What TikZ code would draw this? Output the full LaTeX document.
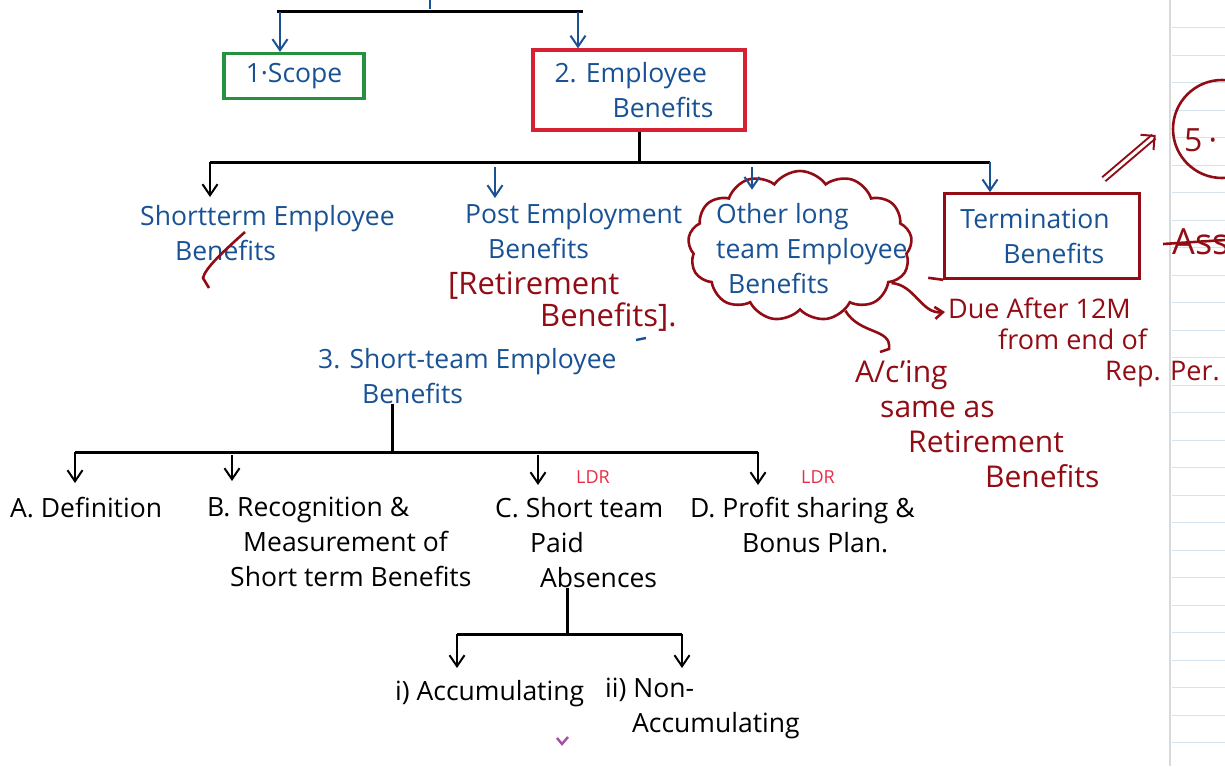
\documentclass[tikz,border=0pt]{standalone}
\usepackage{fontspec}
\setmainfont{Open Sans}
\usetikzlibrary{arrows.meta,shapes.symbols}
\definecolor{inkblue}{RGB}{24,82,148}
\definecolor{inkred}{RGB}{145,12,20}
\definecolor{boxred}{RGB}{214,32,52}
\definecolor{boxgreen}{RGB}{38,145,62}
\definecolor{ldrred}{RGB}{232,45,70}
\definecolor{paperline}{RGB}{212,227,238}
\tikzset{
  hand/.style={inner sep=0pt, align=left, anchor=north west, font=\fontsize{26.5}{35}\selectfont},
  bluetxt/.style={hand, text=inkblue},
  blacktxt/.style={hand, text=black},
  redtxt/.style={hand, text=inkred, font=\fontsize{27}{31}\selectfont},
  bar/.style={line width=3pt},
  down/.style={line width=2pt, -{Straight Barb[length=11pt,width=15pt]}},
  ldr/.style={text=ldrred, font=\fontsize{18}{18}\selectfont},
  redpen/.style={inkred, line width=2.6pt},
}
\begin{document}
\begin{tikzpicture}[x=1pt,y=-1pt]
\useasboundingbox (0,0) rectangle (1225,766);
% notebook margin on the right
\draw[gray!30, line width=1.5pt] (1170,0) -- (1170,766);
\foreach \k in {1,...,27}
  \draw[paperline, line width=1pt] (1172,27.5*\k) -- (1225,27.5*\k);

% level 1
\node[draw=boxgreen, line width=3.2pt, minimum width=140pt, minimum height=45pt,
  text=inkblue, font=\fontsize{26.5}{35}\selectfont] (scope) at (294,76) {1·Scope};
\node[draw=boxred, line width=3.2pt, minimum width=212pt, minimum height=80pt,
  text=inkblue, align=left, font=\fontsize{26.5}{35}\selectfont] (emp) at (639,90)
  {2. Employee\\\hspace*{58pt}Benefits\hspace*{10pt}};
\coordinate (b1l) at (277,11);
\coordinate (b1r) at (583,11);
\coordinate (s1) at (280,12);
\coordinate (s2) at (578,12);
\draw[inkblue, line width=2pt] (430,0) -- (430,9);
\draw[bar] (b1l) -- (b1r);
\draw[down, inkblue] (s1) -- (s1 |- scope.north);
\draw[down, inkblue] (s2) -- (s2 |- emp.north);

% level 2
\node[bluetxt] (stb) at (140,205) {Shortterm Employee\\\hspace*{35pt}Benefits};
\node[bluetxt] (peb) at (465,203) {Post Employment\\\hspace*{23pt}Benefits};
\node[redtxt, font=\fontsize{31}{32}\selectfont] (ret) at (448,272) {[Retirement\\\hspace*{92pt}Benefits].};
\node[cloud, draw=inkred, line width=2.6pt, cloud puffs=13, cloud puff arc=110,
  minimum width=224pt, minimum height=150pt] (cloud) at (800,246) {};
\node[bluetxt] (olt) at (716,203) {Other long\\team Employee\\\hspace*{12pt}Benefits};
\node[draw=inkred, line width=2.6pt, minimum width=195pt, minimum height=85pt,
  text=inkblue, align=left, font=\fontsize{26.5}{35}\selectfont] (term) at (1042,236)
  {Termination\hspace*{14pt}\\\hspace*{43pt}Benefits};
\draw[redpen] (term.south west) -- ++(-15,-2);
\coordinate (b2l) at (210,162);
\coordinate (b2r) at (990,162);
\coordinate (p1) at (495,167);
\coordinate (p2) at (752,167);
\draw[bar] (emp.south) -- (emp.south |- b2l);
\draw[bar] (b2l) -- (b2r);
\draw[down, shorten >=8pt] (b2l) -- (b2l |- stb.north);
\draw[down, inkblue, shorten >=5pt] (p1) -- (p1 |- peb.north);
\draw[down, inkblue, shorten >=-20pt] (p2) -- (p2 |- cloud.north);
\draw[down, inkblue] (b2r) -- (b2r |- term.north);
\draw[redpen] (245,232) .. controls (225,250) and (205,268) .. (203,278) -- (209,288);
\draw[inkblue, line width=2.4pt] (636,340) -- (646,338);

% notes in red
\node[redtxt] (due) at (948,298) {Due After 12M\\\hspace*{50pt}from end of\\\hspace*{157pt}Rep. Per.};
\node[redtxt, font=\fontsize{30}{35}\selectfont] (acing) at (855,360)
  {A/c'ing\\\hspace*{25pt}same as\\\hspace*{53pt}Retirement\\\hspace*{130pt}Benefits};
\draw[redpen, -{Straight Barb[length=8pt,width=12pt]}] (cloud.-22) to[out=-5,in=185] ([shift={(-3,14)}]due.north west);
\draw[redpen] (cloud.-55) .. controls (860,335) and (892,328) .. (889,349) -- (880,352);
\node[circle, draw=inkred, line width=2.6pt, minimum size=98pt] (five) at (1222,129) {};
\node[redtxt, anchor=west, font=\fontsize{32}{32}\selectfont] (fivetxt) at (1184,140) {5\hspace{6pt}·};
\draw[inkred, line width=2pt, double distance=3pt, -{Straight Barb[length=10pt]}]
  ([shift={(-37,-13)}]term.north east) -- ([shift={(-16,6)}]five.west);
\node[redtxt, font=\fontsize{36}{36}\selectfont] (ass) at (1172,228) {Ass};
\draw[redpen] (1163,244) -- (1225,240);

% level 3
\node[bluetxt] (st3) at (318,348) {3. Short-team Employee\\\hspace*{44pt}Benefits};
\coordinate (b3) at (392,452);
\coordinate (b3l) at (75,452);
\coordinate (b3r) at (758,452);
\coordinate (q1) at (232,455);
\coordinate (q2) at (538,455);
\node[blacktxt] (def) at (10,497) {A. Definition};
\node[blacktxt] (rec) at (207,497) {B. Recognition \&\\\hspace*{36pt}Measurement of\\\hspace*{23pt}Short term Benefits};
\node[blacktxt] (paid) at (495,497) {C. Short team\\\hspace*{35pt}Paid\\\hspace*{45pt}Absences};
\node[blacktxt] (bonus) at (690,497) {D. Profit sharing \&\\\hspace*{52pt}Bonus Plan.};
\node[ldr] (ldr1) at (593,477) {LDR};
\node[ldr] (ldr2) at (818,477) {LDR};
\draw[bar] (b3 |- st3.south) -- (b3);
\draw[bar] (b3l) -- (b3r);
\draw[down, shorten >=14pt] (b3l) -- (b3l |- def.north);
\draw[down, shorten >=16pt] (q1) -- (q1 |- rec.north);
\draw[down, shorten >=12pt] (q2) -- (q2 |- paid.north);
\draw[down, shorten >=12pt] (b3r) -- (b3r |- bonus.north);

% level 4
\node[blacktxt] (acc) at (395,680) {i) Accumulating};
\node[blacktxt] (nonacc) at (605,678) {ii) Non-\\\hspace*{27pt}Accumulating};
\coordinate (b4) at (567,634);
\coordinate (b4l) at (457,634);
\coordinate (b4r) at (682,634);
\draw[bar] (b4 |- paid.south) -- (b4);
\draw[bar] (b4l) -- (b4r);
\draw[down, shorten >=12pt] (b4l) -- (b4l |- acc.north);
\draw[down, shorten >=10pt] (b4r) -- (b4r |- nonacc.north);
\draw[violet!70, line width=2.4pt] (557,738) -- (562,744) -- (568,737);
\end{tikzpicture}
\end{document}
